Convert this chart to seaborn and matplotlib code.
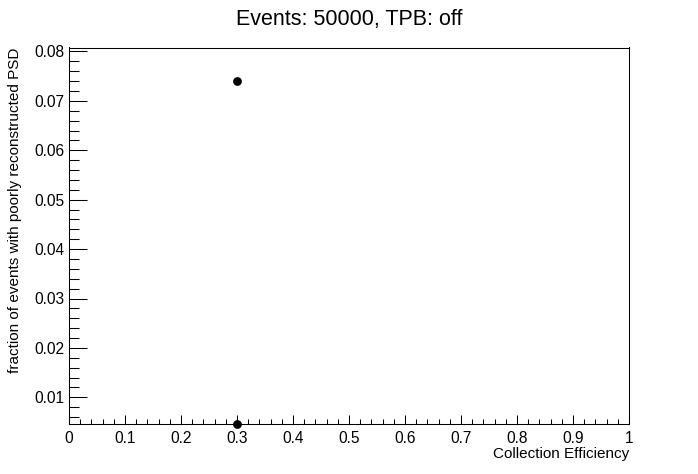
import matplotlib
matplotlib.use("Agg")
import matplotlib.pyplot as plt
import seaborn as sns
import pandas as pd
from matplotlib.ticker import MultipleLocator, FormatStrFormatter

# data
efficiency = [0.3, 0.3]
fraction_bad_psd = [0.0741, 0.0047]

title = "Events: 50000, TPB: off"
xlabel = "Collection Efficiency"
ylabel = "fraction of events with poorly reconstructed PSD"

df = pd.DataFrame({"eff": efficiency, "frac": fraction_bad_psd})

sns.set_style("ticks")
plt.rcParams['font.family'] = ['Liberation Sans', 'DejaVu Sans']
plt.rcParams['text.color'] = 'black'
plt.rcParams['axes.labelcolor'] = 'black'

fig = plt.figure(figsize=(6.98, 4.74), dpi=100)
ax = fig.add_axes([69 / 698, 1 - 424 / 474, 560 / 698, (424 - 47.5) / 474])

sns.scatterplot(data=df, x="eff", y="frac", ax=ax, color="black",
                s=40, edgecolor="black", linewidth=0, clip_on=False, zorder=5)

ax.set_xlim(0, 1)
ax.set_ylim(0.0046, 0.0808)

ax.xaxis.set_major_locator(MultipleLocator(0.1))
ax.xaxis.set_minor_locator(MultipleLocator(0.02))
ax.yaxis.set_major_locator(MultipleLocator(0.01))
ax.yaxis.set_minor_locator(MultipleLocator(0.002))
ax.xaxis.set_major_formatter(FormatStrFormatter('%g'))
ax.yaxis.set_major_formatter(FormatStrFormatter('%g'))

ax.tick_params(axis='both', which='both', direction='in', top=False, right=False,
               labelsize=11.2, colors='black', width=0.75)
ax.tick_params(axis='y', which='major', length=13, pad=3)
ax.tick_params(axis='y', which='minor', length=7)
ax.tick_params(axis='x', which='major', length=6.5, pad=5)
ax.tick_params(axis='x', which='minor', length=3.5)

for sp in ax.spines.values():
    sp.set_visible(True)
    sp.set_color('black')
    sp.set_linewidth(0.75)

ax.set_xlabel(xlabel, loc='right', fontsize=11, labelpad=1)
ax.set_ylabel(ylabel, loc='top', fontsize=11, labelpad=9)

fig.text(0.5, 1 - 19.5 / 474, title, ha='center', va='center', fontsize=15.5)

fig.savefig("out.png", dpi=100)
